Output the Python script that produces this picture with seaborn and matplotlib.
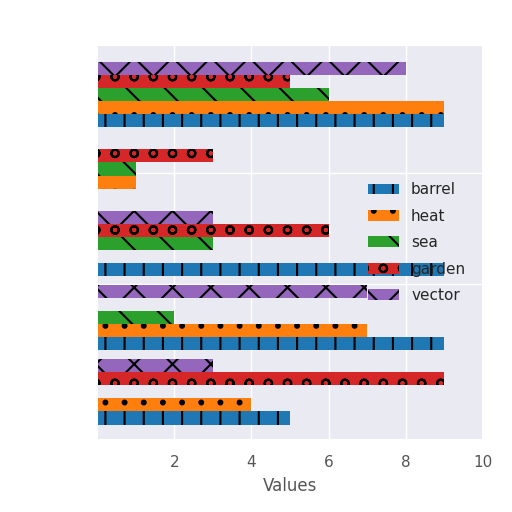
import numpy as np
import matplotlib
matplotlib.use("Agg")
import matplotlib.pyplot as plt
import seaborn as sns

# render at a slightly higher dpi so the hatch patterns come out sparser, as in the reference
DPI = 115
s = 100 / DPI
sns.set_theme(style="darkgrid", font_scale=s, rc={"grid.linewidth": 1.0 * s})
plt.rcParams["hatch.color"] = "black"
plt.rcParams["hatch.linewidth"] = 1.5 * s

series = ["barrel", "heat", "sea", "garden", "vector"]
colors = ["#1f77b4", "#ff7f0e", "#2ca02c", "#d62728", "#9467bd"]
hatches = ["|", ".", "\\", "o", "x"]
# values per group (bottom to top)
barrel = [5, 9, 9, 0, 9]
heat = [4, 7, 0, 1, 9]
sea = [0, 2, 3, 1, 6]
garden = [9, 0, 6, 3, 5]
vector = [3, 7, 3, 0, 8]
values = [barrel, heat, sea, garden, vector]

fig = plt.figure(figsize=(512 / DPI, 512 / DPI), dpi=DPI)
ax = fig.add_axes([0.19, 0.14, 0.753, 0.772])
h = 0.176
groups = np.arange(5)
for i, (name, vals) in enumerate(zip(series, values)):
    ax.barh(groups + i * h, vals, height=h, color=colors[i], hatch=hatches[i],
            label=name, edgecolor="black", linewidth=0)

ax.set_xlim(0, 10)
ax.set_ylim(-0.3, 5.02)
ax.set_xticks([2, 4, 6, 8, 10])
ax.set_yticks([1.8, 3.3])
ax.set_yticklabels([])
ax.set_xlabel("Values", color="#555555", fontsize=12 * s)
ax.tick_params(colors="#555555", labelsize=11 * s)
ax.legend(loc="center right", bbox_to_anchor=(0.99, 0.5), frameon=False,
          fontsize=11 * s, labelspacing=0.75)
fig.savefig("out.png", dpi=DPI)
